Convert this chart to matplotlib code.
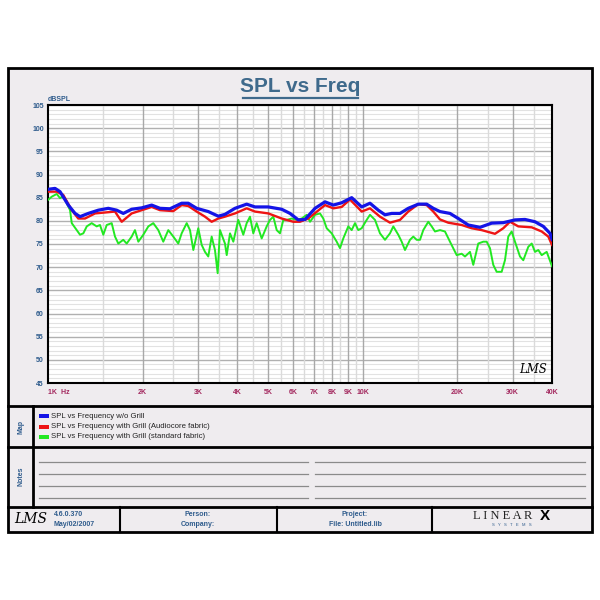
import matplotlib
matplotlib.use("Agg")
import matplotlib.pyplot as plt
from matplotlib.patches import Rectangle

plt.rcParams['font.family'] = ['Liberation Sans', 'DejaVu Sans']

# blue: SPL vs Frequency w/o Grill
f_blue = [1000, 1053, 1092, 1160, 1219, 1264, 1343, 1445, 1555, 1653, 1735, 1845, 1986, 2136,
          2270, 2442, 2660, 2792, 2969, 3232, 3478, 3652, 3930, 4281, 4549, 5015, 5532, 5880,
          6247, 6561, 7060, 7595, 8070, 8581, 9233, 9934, 10556, 11217, 11782, 12375, 13149,
          13971, 15032, 15985, 16776, 17620, 18957, 20148, 21675, 23611, 25720, 28000, 30504,
          32826, 35323, 37537, 39420, 40000]
v_blue = [86.8, 87.0, 86.3, 83.4, 81.6, 80.9, 81.6, 82.3, 82.7, 82.3, 81.6, 82.5, 82.8, 83.4,
          82.7, 82.6, 83.8, 83.8, 82.7, 82.0, 81.0, 81.4, 82.7, 83.6, 83.0, 83.0, 82.5, 81.6,
          80.2, 80.3, 82.7, 84.1, 83.4, 83.9, 85.0, 83.0, 83.8, 82.3, 81.3, 81.6, 81.6,
          82.7, 83.6, 83.6, 82.7, 82.0, 81.6, 80.5, 79.1, 78.6, 79.5, 79.6, 80.2,
          80.3, 79.8, 78.8, 77.3, 76.0]

# red: SPL vs Frequency with Grill (Audiocore fabric)
f_red = [1000, 1066, 1118, 1190, 1248, 1311, 1411, 1518, 1633, 1715, 1845, 1986, 2136, 2270,
         2502, 2660, 2792, 2969, 3155, 3313, 3478, 3652, 3930, 4281, 4549, 5015, 5532, 6023,
         6324, 6722, 7595, 8070, 8581, 9120, 9934, 10556, 11358, 12221, 13149, 13971, 15032,
         15985, 16776, 17620, 18722, 20654, 22221, 23903, 26349, 28000, 29415, 31254, 34480,
         37097, 38935, 40000]
v_red = [86.3, 86.3, 85.6, 82.3, 80.5, 80.5, 81.6, 81.8, 82.0, 79.8, 81.6, 82.3, 83.0, 82.3,
         82.1, 83.4, 83.2, 82.0, 80.9, 79.8, 80.5, 80.9, 81.6, 82.7, 82.0, 81.6, 80.5, 79.8,
         79.8, 80.5, 83.4, 82.7, 83.0, 84.6, 82.0, 82.7, 80.9, 79.6, 80.2, 82.0, 83.6,
         83.4, 82.0, 80.3, 79.6, 79.1, 78.4, 78.0, 77.2, 78.4, 79.8, 78.8, 78.6,
         77.7, 76.6, 74.8]

# green: SPL vs Frequency with Grill (standard fabric)
f_green = [1000, 1027, 1066, 1092, 1118, 1147, 1175, 1190, 1234, 1264, 1295, 1328, 1377, 1428,
           1463, 1499, 1537, 1594, 1633, 1673, 1735, 1779, 1845, 1890, 1937, 2009, 2084, 2161,
           2242, 2325, 2412, 2502, 2595, 2660, 2760, 2827, 2897, 3004, 3080, 3155, 3232, 3313,
           3394, 3462, 3521, 3652, 3699, 3789, 3882, 4026, 4176, 4281, 4386, 4493, 4606, 4778,
           4956, 5078, 5202, 5333, 5463, 5597, 5738, 5952, 6174, 6405, 6643, 6806, 7060, 7321,
           7500, 7689, 7976, 8273, 8475, 8682, 9006, 9233, 9459, 9690, 9934, 10304, 10556,
           10950, 11358, 11782, 12221, 12520, 12985, 13312, 13638, 14146, 14492, 14857, 15220,
           15592, 16173, 16581, 16986, 17620, 18276, 18957, 19912, 20654, 21159, 21946, 22483,
           23320, 24188, 24797, 25402, 26023, 26679, 27674, 28351, 29044, 29775, 30504, 31646,
           32420, 33633, 34480, 35323, 36186, 37097, 38480, 40000]
v_green = [84.5, 85.2, 85.8, 84.9, 85.4, 83.8, 82.3, 79.5, 78.0, 77.0, 77.3, 78.8, 79.5, 78.8,
           79.1, 77.0, 79.1, 79.5, 76.6, 75.1, 75.9, 75.1, 76.6, 78.0, 75.5, 77.0, 78.8, 79.5,
           78.0, 75.5, 78.0, 76.6, 75.1, 77.3, 79.5, 78.0, 73.7, 78.4, 74.8, 73.3, 72.3, 76.6,
           73.7, 68.7, 78.0, 75.1, 72.6, 77.3, 75.5, 80.2, 77.0, 79.5, 80.9, 77.3, 79.5, 76.2,
           78.8, 80.2, 80.9, 78.0, 77.3, 80.2, 80.2, 80.5, 80.2, 80.5, 81.3, 79.8, 81.3, 81.6,
           80.5, 78.4, 77.3, 75.5, 74.1, 76.2, 78.8, 78.0, 79.5, 78.0, 78.4, 80.2, 81.3,
           80.2, 77.3, 75.9, 77.3, 78.8, 77.0, 75.5, 73.7, 75.9, 76.6, 75.9, 75.9,
           78.0, 79.8, 78.8, 77.7, 78.0, 77.7, 75.5, 72.6, 72.9, 72.3, 73.3, 70.5,
           75.1, 75.5, 75.5, 74.1, 70.5, 69.0, 69.0, 71.5, 76.6, 77.7, 75.5, 72.3,
           71.5, 74.4, 75.1, 73.3, 73.7, 72.6, 73.3, 70.2]

series_labels = ["SPL vs Frequency w/o Grill",
                 "SPL vs Frequency with Grill (Audiocore fabric)",
                 "SPL vs Frequency with Grill (standard fabric)"]
series_colors = ["#1414e6", "#ee1414", "#22e822"]

x_major = [2000, 3000, 4000, 5000, 6000, 7000, 8000, 9000, 10000, 20000, 30000]
x_minor = [1500, 2500, 3500, 4500, 5500, 6500, 7500, 8500, 9500, 15000, 25000, 35000]
x_ticks = [1000, 2000, 3000, 4000, 5000, 6000, 7000, 8000, 9000, 10000, 20000, 30000, 40000]
x_tick_labels = ["1K  Hz", "2K", "3K", "4K", "5K", "6K", "7K", "8K", "9K", "10K", "20K", "30K", "40K"]
y_ticks = list(range(45, 106, 5))

panel = '#efecef'
label_blue = '#2e5b8c'
tick_red = '#a3285e'

fig = plt.figure(figsize=(6, 6), dpi=100)
fig.patch.set_facecolor('white')

# page overlay in pixel coordinates
bg = fig.add_axes([0, 0, 1, 1], zorder=0)
bg.set_xlim(0, 600)
bg.set_ylim(600, 0)
bg.axis('off')

bg.add_patch(Rectangle((8, 68), 584, 464, facecolor=panel, edgecolor='black', lw=2))
for yy in [406, 447, 507]:
    bg.plot([8, 592], [yy, yy], color='black', lw=2)
bg.plot([33, 33], [406, 507], color='black', lw=2)
for xx in [120, 277, 432]:
    bg.plot([xx, xx], [507, 532], color='black', lw=1.5)

bg.text(300, 87, "SPL vs Freq", ha='center', va='center', fontsize=15, fontweight='bold',
        color='#3f6a8c')
bg.plot([243, 358], [97.5, 97.5], color='#3f6a8c', lw=1.6)
bg.text(48, 99.5, "dBSPL", ha='left', va='center', fontsize=5, fontweight='bold', color=label_blue)

bg.text(21, 427, "Map", rotation=90, ha='center', va='center', fontsize=5, fontweight='bold', color=label_blue)
bg.text(21, 476, "Notes", rotation=90, ha='center', va='center', fontsize=5, fontweight='bold', color=label_blue)

for i, (lab, col) in enumerate(zip(series_labels, series_colors)):
    yy = 416 + i * 10.5
    bg.add_patch(Rectangle((39, yy - 2), 10, 4, facecolor=col, edgecolor='none'))
    bg.text(51, yy, lab, ha='left', va='center', fontsize=5.6, color='#222222')

for yy in [462, 474, 486, 498]:
    bg.plot([39, 308], [yy, yy], color='#8a8a8a', lw=0.9)
    bg.plot([315, 585], [yy, yy], color='#8a8a8a', lw=0.9)

bg.text(31, 519, "LMS", ha='center', va='center', fontsize=10, style='italic',
        family='DejaVu Serif', color='black')
bg.text(54, 515, "4.6.0.370", ha='left', va='center', fontsize=5, fontweight='bold', color=label_blue)
bg.text(54, 524, "May/02/2007", ha='left', va='center', fontsize=5, fontweight='bold', color=label_blue)
bg.text(198, 515, "Person:", ha='center', va='center', fontsize=5, fontweight='bold', color=label_blue)
bg.text(198, 524, "Company:", ha='center', va='center', fontsize=5, fontweight='bold', color=label_blue)
bg.text(355, 515, "Project:", ha='center', va='center', fontsize=5, fontweight='bold', color=label_blue)
bg.text(355, 524, "File: Untitled.lib", ha='center', va='center', fontsize=5, fontweight='bold', color=label_blue)
bg.text(503, 516, "L I N E A R", ha='center', va='center', fontsize=9, family='Liberation Serif', color='#222222')
bg.text(545, 516, "X", ha='center', va='center', fontsize=11, fontweight='bold', color='black')
bg.text(512, 525.5, "S   Y   S   T   E   M   S", ha='center', va='center', fontsize=3, color=label_blue)

# main chart
ax = fig.add_axes([48 / 600, 1 - 383 / 600, 504 / 600, 278 / 600], zorder=2)
ax.set_facecolor('white')
ax.set_xscale('log')
ax.set_xlim(1000, 40000)
ax.set_ylim(45, 105)

for v in range(46, 105):
    if v % 5:
        ax.axhline(v, color='#e2e2e2', lw=0.8, zorder=0)
for v in y_ticks:
    ax.axhline(v, color='#b0b0b0', lw=1.0, zorder=0)
for f in x_minor:
    ax.axvline(f, color='#dadada', lw=1.0, zorder=0)
for f in x_major:
    ax.axvline(f, color='#a8a8a8', lw=1.0, zorder=0)

ax.plot(f_green, v_green, color=series_colors[2], lw=1.4, zorder=3)
ax.plot(f_red, v_red, color=series_colors[1], lw=1.7, zorder=4)
ax.plot(f_blue, v_blue, color=series_colors[0], lw=2.3, zorder=5)

ax.set_xticks(x_ticks)
ax.set_xticklabels(x_tick_labels)
ax.xaxis.set_minor_locator(matplotlib.ticker.NullLocator())
ax.set_yticks(y_ticks)
ax.set_yticklabels([str(v) for v in y_ticks])
ax.tick_params(axis='x', length=0, pad=4, labelsize=5, labelcolor=tick_red)
ax.tick_params(axis='y', length=0, pad=3, labelsize=5, labelcolor=label_blue)
for t in ax.get_xticklabels() + ax.get_yticklabels():
    t.set_fontweight('bold')
first = ax.get_xticklabels()[0]
first.set_horizontalalignment('left')
for s in ax.spines.values():
    s.set_linewidth(1.5)
    s.set_color('black')

ax.text(0.99, 0.025, "LMS", transform=ax.transAxes, ha='right', va='bottom', fontsize=8.5,
        style='italic', family='DejaVu Serif', color='black')

fig.savefig('out.png', dpi=100, facecolor='white')
